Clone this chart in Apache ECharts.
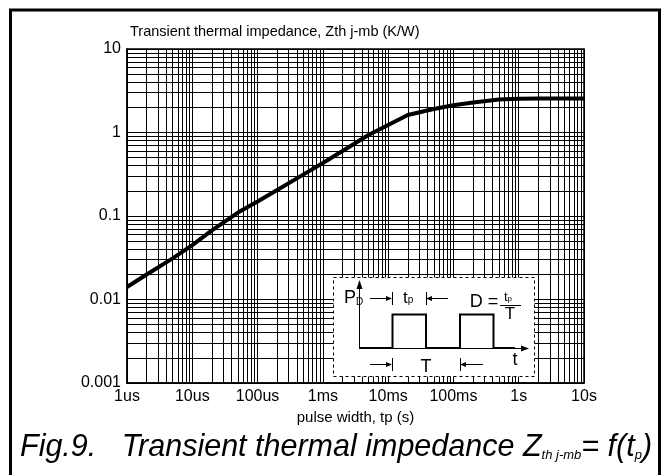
<!DOCTYPE html>
<html>
<head>
<meta charset="utf-8">
<script src="https://cdn.jsdelivr.net/npm/echarts@6/dist/echarts.min.js"></script>
<style>
html,body{margin:0;padding:0;background:#fff;}
#chart{width:669px;height:475px;}
</style>
</head>
<body>
<div id="chart"></div>
<script>
// pulse width (s)
var pulseWidth = [1e-6, 2e-6, 5e-6, 1e-5, 2e-5, 5e-5, 1e-4, 2e-4, 5e-4, 1e-3, 2e-3, 5e-3,
                  1e-2, 2e-2, 5e-2, 1e-1, 2e-1, 5e-1, 1, 2, 5, 10];
// Zth j-mb (K/W)
var zth = [0.0141, 0.0199, 0.0311, 0.0447, 0.0673, 0.110, 0.149, 0.205, 0.313, 0.431, 0.600, 0.933,
           1.23, 1.62, 1.91, 2.12, 2.29, 2.48, 2.54, 2.55, 2.55, 2.55];
var xTickLabels = ['1us', '10us', '100us', '1ms', '10ms', '100ms', '1s', '10s'];
var yTickLabels = ['0.001', '0.01', '0.1', '1', '10'];

var FONT = '"Liberation Sans", Arial, sans-serif';

// minor grid lines 2..9 in each decade
var xMinor = [], yMinor = [];
for (var d = -6; d < 1; d++) {
    for (var k = 2; k < 10; k++) xMinor.push({xAxis: k * Math.pow(10, d)});
}
for (var d2 = -3; d2 < 1; d2++) {
    for (var k2 = 2; k2 < 10; k2++) yMinor.push({yAxis: k2 * Math.pow(10, d2)});
}

var chart = echarts.init(document.getElementById('chart'), null, {renderer: 'canvas'});

function txt(x, y, s, size) {
    return {type: 'text', z: 102, style: {x: x, y: y, text: s, fill: '#000',
        font: (size || 16) + 'px ' + FONT, textAlign: 'center', textVerticalAlign: 'middle'}};
}
function seg(x1, y1, x2, y2, w) {
    return {type: 'line', z: 102, shape: {x1: x1, y1: y1, x2: x2, y2: y2},
            style: {stroke: '#000', lineWidth: w || 1}};
}
function head(pts) {
    return {type: 'polygon', z: 102, shape: {points: pts}, style: {fill: '#000'}};
}
function sub(x, y, a, b, sa, sb, off) {
    return {type: 'text', z: 102, style: {x: x, y: y, text: '{a|' + a + '}{b|' + b + '}',
        textVerticalAlign: 'middle',
        rich: {a: {fontSize: sa, fontFamily: FONT, fill: '#000'},
               b: {fontSize: sb, fontFamily: FONT, fill: '#000', padding: [off, 0, 0, 0]}}}};
}

// pulse sketch inside the chart
var inset = [
    {type: 'rect', z: 101, shape: {x: 333.5, y: 277.5, width: 201, height: 99},
     style: {fill: '#fff', stroke: '#000', lineWidth: 1, lineDash: [3, 3]}},
    seg(359.5, 349, 359.5, 284), head([[356.5, 289], [362.5, 289], [359.5, 280]]),
    seg(359, 348.5, 524, 348.5), head([[521, 345.5], [521, 351.5], [529, 348.5]]),
    {type: 'polyline', z: 102,
     shape: {points: [[360, 348], [392.5, 348], [392.5, 314.5], [426, 314.5], [426, 348],
                      [460, 348], [460, 314.5], [493.5, 314.5], [493.5, 348], [515, 348]]},
     style: {stroke: '#000', lineWidth: 2, fill: null}},
    seg(370, 298.5, 389, 298.5), head([[386, 296], [386, 301], [392, 298.5]]), seg(392.5, 292, 392.5, 305),
    seg(430, 298.5, 448, 298.5), head([[432, 296], [432, 301], [426, 298.5]]), seg(426.5, 292, 426.5, 305),
    seg(370, 364.5, 389, 364.5), head([[386, 362], [386, 367], [392, 364.5]]), seg(392.5, 358, 392.5, 371),
    seg(464, 364.5, 483, 364.5), head([[466, 362], [466, 367], [460, 364.5]]), seg(460.5, 358, 460.5, 371),
    sub(344, 298, 'P', 'D', 18, 10, 9),
    sub(403, 298, 't', 'p', 17, 10, 4),
    txt(484, 302, 'D =', 18),
    sub(504, 297, 't', 'p', 13, 8, 3),
    seg(500, 305.5, 521, 305.5),
    txt(510, 314, 'T', 17),
    txt(426, 367, 'T', 18),
    txt(515, 360, 't', 18)
];

var option = {
    animation: false,
    backgroundColor: '#fff',
    title: [{
        text: 'Transient thermal impedance, Zth j-mb (K/W)',
        left: 130, top: 24, padding: 0,
        textStyle: {fontFamily: FONT, fontSize: 14.5, fontWeight: 'normal', color: '#000'}
    }, {
        text: '{n|Fig.9.   Transient thermal impedance Z}{s|th j-mb}{n|= f(t}{s|p}{n|)}',
        left: 20, top: 433, padding: 0,
        textStyle: {
            rich: {
                n: {fontFamily: FONT, fontSize: 30.5, fontStyle: 'italic', fontWeight: 'normal', color: '#000'},
                s: {fontFamily: FONT, fontSize: 13, fontStyle: 'italic', fontWeight: 'normal', color: '#000',
                    padding: [14, 0, 0, 0]}
            }
        }
    }],
    grid: {left: 127, top: 49, width: 457, height: 334, show: true,
           borderColor: '#000', borderWidth: 1.5, backgroundColor: 'transparent'},
    xAxis: {
        type: 'log', logBase: 10, min: 1e-6, max: 10, splitNumber: 7,
        name: 'pulse width, tp (s)', nameLocation: 'middle', nameGap: 23,
        nameTextStyle: {fontFamily: FONT, fontSize: 15, color: '#000'},
        axisLine: {show: true, lineStyle: {color: '#000', width: 1.5}},
        axisTick: {show: false},
        axisLabel: {
            color: '#000', fontFamily: FONT, fontSize: 16, margin: 6,
            formatter: function (v) { return xTickLabels[Math.round(Math.log10(v)) + 6] || ''; }
        },
        splitLine: {show: true, lineStyle: {color: '#000', width: 1}}
    },
    yAxis: {
        type: 'log', logBase: 10, min: 0.001, max: 10, splitNumber: 4,
        axisLine: {show: true, lineStyle: {color: '#000', width: 1.5}},
        axisTick: {show: false},
        axisLabel: {
            color: '#000', fontFamily: FONT, fontSize: 16, margin: 6,
            formatter: function (v) { return yTickLabels[Math.round(Math.log10(v)) + 3] || ''; }
        },
        splitLine: {show: true, lineStyle: {color: '#000', width: 1}}
    },
    series: [{
        type: 'line', data: [], silent: true,
        markLine: {
            silent: true, precision: 12, symbol: ['none', 'none'], label: {show: false},
            lineStyle: {color: '#000', width: 1, type: 'solid'},
            emphasis: {disabled: true},
            data: xMinor.concat(yMinor)
        }
    }, {
        type: 'line', z: 5,
        data: pulseWidth.map(function (t, i) { return [t, zth[i]]; }),
        showSymbol: false, symbol: 'none',
        lineStyle: {color: '#000', width: 4}
    }],
    graphic: [
        {type: 'rect', z: 0, shape: {x: 10.5, y: 10, width: 649, height: 480},
         style: {fill: null, stroke: '#000', lineWidth: 3}},
        {type: 'group', z: 100, children: inset}
    ]
};
chart.setOption(option);
</script>
</body>
</html>
